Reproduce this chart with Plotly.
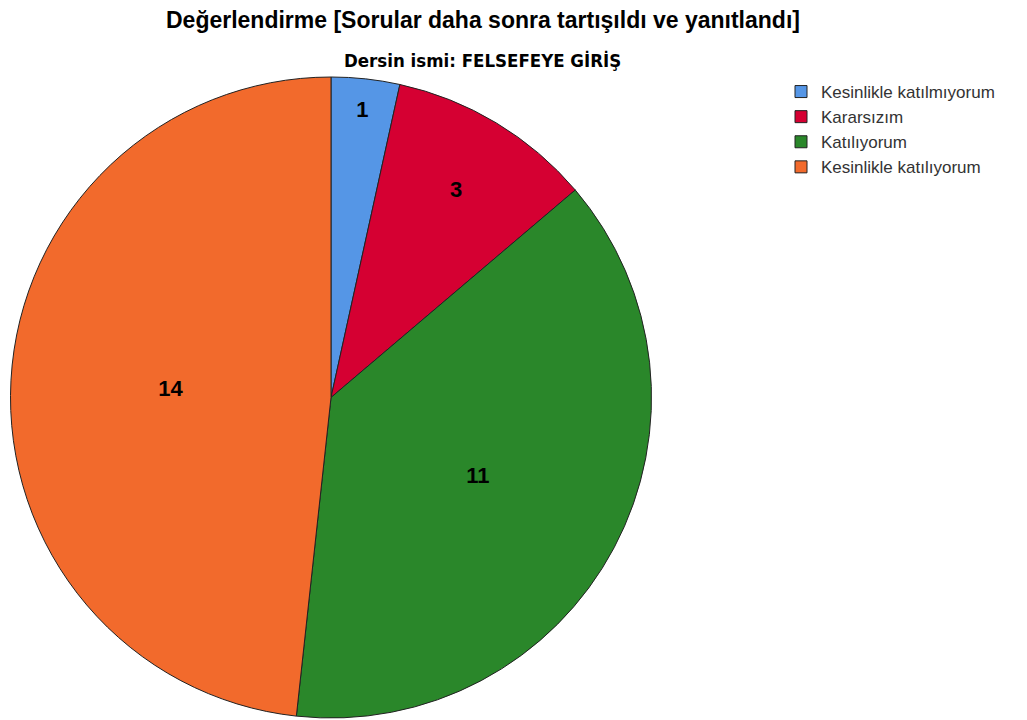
import plotly.graph_objects as go

labels = ["Kesinlikle katılmıyorum", "Kararsızım", "Katılıyorum", "Kesinlikle katılıyorum"]
values = [1, 3, 11, 14]
colors = ["#5596E6", "#D50032", "#2A872A", "#F26A2C"]

W, H = 1027, 720
OFF = 8  # page body margin


def px(x):
    return (x - OFF) / W


def py(y):
    return 1 - (y - OFF) / H


fig = go.Figure(go.Pie(
    labels=labels, values=values, sort=False, direction="clockwise", rotation=0,
    marker=dict(colors=colors, line=dict(color="#222222", width=1)),
    textinfo="value", textposition="inside", insidetextorientation="horizontal",
    textfont=dict(family="Liberation Sans", size=22, color="black", weight="bold"),
    domain=dict(x=[px(331 - 321), px(331 + 321)], y=[py(718), py(77)]),
    hoverinfo="label+value",
))

fig.update_layout(
    width=W, height=H,
    margin=dict(l=0, r=0, t=0, b=0),
    paper_bgcolor="white", plot_bgcolor="white",
    showlegend=True,
    legend=dict(x=px(781), y=py(74), xanchor="left", yanchor="top",
                font=dict(family="Liberation Sans", size=17, color="#333333"),
                itemwidth=30, tracegroupgap=0, bgcolor="rgba(0,0,0,0)"),
    annotations=[
        dict(text="<b>Değerlendirme [Sorular daha sonra tartışıldı ve yanıtlandı]</b>",
             x=px(483), y=py(20), xref="paper", yref="paper", showarrow=False,
             xanchor="center", yanchor="middle",
             font=dict(family="Liberation Sans", size=23, color="black")),
        dict(text="<b>Dersin ismi: FELSEFEYE GİRİŞ</b>",
             x=px(482), y=py(61), xref="paper", yref="paper", showarrow=False,
             xanchor="center", yanchor="middle",
             font=dict(family="DejaVu Sans Condensed, Liberation Sans", size=18.5, color="black")),
    ],
)

fig.write_html("out.html")
